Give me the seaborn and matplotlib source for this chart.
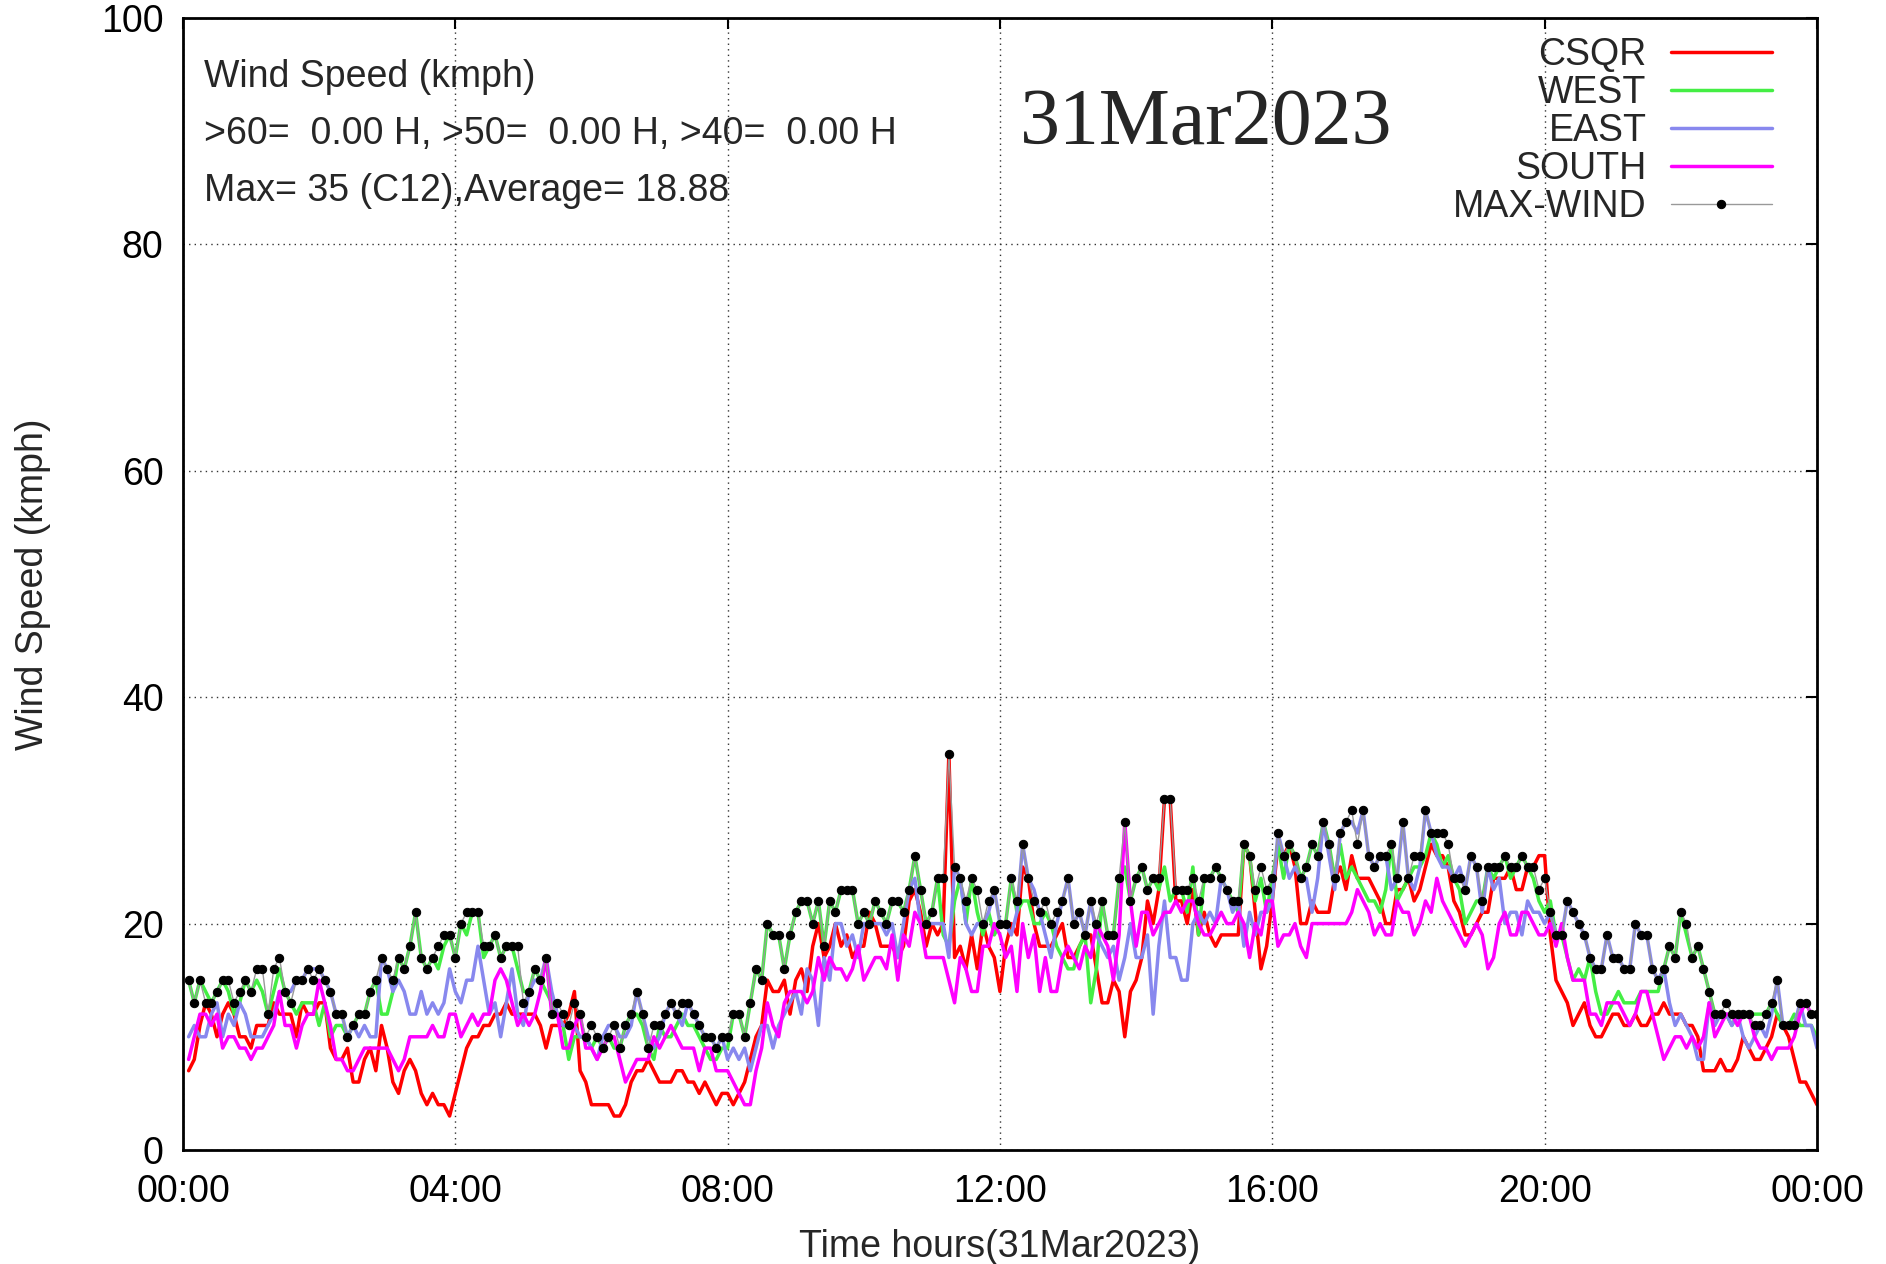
import numpy as np
import seaborn as sns
import matplotlib
matplotlib.use('Agg')
import matplotlib.pyplot as plt

# 5-minute samples, 00:05 .. 24:00 (kmph)
minutes = list(range(5, 1441, 5))

csqr = [
    7, 8, 11, 13, 12, 10, 12, 13, 12, 10, 10, 9,
    11, 11, 11, 13, 12, 12, 12, 10, 13, 12, 12, 13,
    13, 9, 8, 8, 9, 6, 6, 8, 9, 7, 11, 9,
    6, 5, 7, 8, 7, 5, 4, 5, 4, 4, 3, 5,
    7, 9, 10, 10, 11, 11, 12, 12, 13, 12, 12, 12,
    12, 12, 11, 9, 11, 11, 11, 12, 14, 7, 6, 4,
    4, 4, 4, 3, 3, 4, 6, 7, 7, 8, 7, 6,
    6, 6, 7, 7, 6, 6, 5, 6, 5, 4, 5, 5,
    4, 5, 6, 8, 10, 11, 15, 14, 14, 15, 12, 15,
    16, 14, 18, 20, 17, 18, 20, 18, 19, 17, 18, 18,
    21, 20, 18, 18, 18, 17, 18, 22, 23, 21, 18, 20,
    19, 20, 35, 17, 18, 16, 19, 16, 20, 18, 17, 14,
    18, 20, 19, 25, 24, 20, 18, 18, 18, 19, 20, 17,
    17, 18, 19, 19, 16, 13, 13, 15, 14, 10, 14, 15,
    17, 22, 20, 23, 31, 31, 22, 22, 20, 23, 19, 21,
    19, 18, 19, 19, 19, 19, 27, 26, 21, 16, 18, 22,
    27, 26, 27, 25, 20, 20, 22, 21, 21, 21, 24, 25,
    23, 26, 24, 24, 24, 23, 22, 20, 20, 23, 23, 24,
    22, 23, 25, 27, 26, 26, 25, 22, 21, 19, 19, 20,
    21, 21, 24, 24, 24, 25, 23, 23, 25, 25, 26, 26,
    19, 15, 14, 13, 11, 12, 13, 11, 10, 10, 11, 12,
    12, 11, 11, 12, 11, 11, 12, 12, 13, 12, 12, 12,
    11, 11, 10, 7, 7, 7, 8, 7, 7, 8, 10, 9,
    8, 8, 9, 10, 12, 11, 10, 8, 6, 6, 5, 4,
]

west = [
    15, 13, 15, 14, 13, 14, 15, 14, 12, 13, 15, 14,
    15, 14, 12, 14, 16, 14, 13, 12, 13, 13, 13, 11,
    13, 10, 11, 11, 10, 11, 12, 12, 14, 15, 12, 12,
    14, 17, 16, 18, 21, 17, 16, 17, 16, 18, 19, 17,
    20, 19, 21, 21, 17, 18, 19, 17, 18, 18, 16, 14,
    14, 16, 15, 14, 13, 12, 11, 8, 10, 10, 10, 9,
    10, 9, 10, 9, 9, 11, 12, 12, 11, 9, 8, 11,
    10, 10, 11, 12, 11, 11, 10, 9, 8, 8, 9, 9,
    12, 12, 10, 13, 16, 15, 20, 19, 19, 16, 19, 21,
    22, 22, 20, 22, 18, 22, 21, 23, 23, 23, 20, 21,
    20, 22, 21, 20, 22, 22, 21, 23, 26, 23, 20, 21,
    24, 19, 18, 22, 24, 20, 24, 21, 19, 21, 19, 20,
    20, 24, 21, 22, 22, 20, 20, 21, 20, 18, 17, 16,
    16, 18, 19, 13, 16, 22, 19, 19, 24, 25, 22, 24,
    25, 23, 24, 23, 25, 22, 23, 23, 21, 25, 19, 24,
    24, 25, 24, 23, 22, 21, 27, 26, 22, 24, 21, 24,
    27, 24, 27, 26, 24, 25, 27, 26, 29, 27, 24, 27,
    24, 25, 24, 23, 22, 22, 21, 23, 27, 22, 23, 24,
    25, 25, 26, 28, 27, 25, 26, 24, 23, 20, 21, 22,
    22, 25, 24, 25, 26, 24, 25, 26, 25, 24, 22, 21,
    22, 19, 19, 17, 15, 16, 15, 17, 14, 12, 12, 13,
    14, 13, 13, 13, 14, 14, 14, 14, 16, 18, 17, 21,
    19, 17, 18, 16, 14, 12, 12, 12, 11, 12, 12, 12,
    12, 12, 12, 13, 12, 11, 11, 12, 11, 11, 11, 10,
]

east = [
    10, 11, 10, 10, 12, 13, 10, 12, 11, 13, 12, 10,
    10, 10, 11, 12, 14, 14, 14, 15, 15, 16, 16, 16,
    15, 14, 12, 12, 10, 11, 10, 11, 10, 10, 17, 16,
    14, 15, 14, 12, 12, 14, 12, 13, 12, 13, 16, 14,
    13, 15, 15, 18, 15, 12, 13, 10, 13, 16, 12, 11,
    14, 15, 15, 17, 14, 12, 11, 11, 11, 10, 10, 9,
    8, 10, 11, 11, 10, 10, 11, 14, 12, 10, 9, 10,
    12, 13, 12, 11, 13, 12, 11, 10, 10, 9, 10, 8,
    9, 8, 9, 7, 9, 11, 11, 9, 11, 12, 13, 14,
    12, 16, 15, 11, 17, 15, 20, 20, 18, 19, 17, 20,
    20, 20, 20, 19, 20, 17, 20, 23, 24, 20, 20, 20,
    20, 20, 17, 25, 24, 20, 19, 20, 20, 21, 23, 20,
    20, 19, 21, 27, 24, 23, 21, 19, 17, 20, 22, 24,
    20, 21, 19, 22, 19, 18, 17, 18, 15, 17, 20, 17,
    17, 19, 12, 18, 22, 17, 17, 15, 15, 20, 21, 20,
    21, 20, 24, 23, 21, 22, 18, 21, 19, 21, 21, 22,
    28, 26, 24, 25, 24, 24, 21, 24, 29, 26, 23, 28,
    29, 29, 28, 30, 26, 25, 26, 26, 23, 24, 29, 24,
    23, 25, 30, 28, 26, 25, 25, 24, 25, 23, 26, 25,
    21, 25, 23, 24, 20, 21, 21, 19, 22, 21, 21, 20,
    21, 19, 19, 22, 21, 20, 19, 17, 16, 16, 19, 17,
    17, 16, 16, 20, 19, 19, 16, 15, 16, 13, 11, 12,
    11, 10, 8, 8, 13, 11, 12, 12, 11, 12, 10, 9,
    10, 11, 10, 12, 15, 11, 11, 11, 13, 11, 11, 9,
]

south = [
    8, 10, 12, 12, 11, 12, 9, 10, 10, 9, 9, 8,
    9, 9, 10, 11, 14, 11, 11, 9, 11, 12, 12, 15,
    13, 11, 8, 8, 7, 7, 8, 9, 9, 9, 9, 9,
    8, 7, 8, 10, 10, 10, 10, 11, 10, 10, 12, 12,
    10, 11, 12, 11, 12, 12, 15, 16, 15, 13, 11, 12,
    11, 12, 14, 17, 12, 12, 9, 9, 11, 12, 9, 9,
    8, 9, 10, 10, 8, 6, 7, 8, 8, 8, 10, 9,
    10, 11, 10, 9, 9, 9, 7, 9, 9, 7, 7, 7,
    6, 5, 4, 4, 7, 9, 13, 11, 10, 13, 14, 14,
    14, 13, 14, 17, 15, 17, 16, 16, 15, 16, 18, 15,
    16, 17, 17, 16, 19, 15, 19, 18, 21, 20, 17, 17,
    17, 17, 15, 13, 17, 16, 14, 14, 18, 18, 20, 19,
    17, 18, 14, 20, 17, 19, 14, 17, 14, 14, 17, 18,
    17, 16, 18, 17, 20, 19, 18, 15, 19, 29, 22, 18,
    21, 21, 19, 20, 21, 21, 22, 21, 22, 22, 20, 19,
    19, 20, 21, 20, 20, 21, 20, 17, 20, 19, 22, 22,
    18, 19, 19, 20, 18, 17, 20, 20, 20, 20, 20, 20,
    20, 21, 23, 22, 21, 19, 20, 19, 19, 22, 21, 21,
    19, 20, 22, 21, 24, 22, 21, 20, 19, 18, 19, 20,
    19, 16, 17, 20, 21, 19, 19, 21, 21, 20, 19, 19,
    20, 18, 20, 17, 15, 15, 15, 12, 12, 11, 13, 13,
    13, 12, 11, 12, 14, 14, 12, 10, 8, 9, 10, 10,
    9, 10, 9, 10, 13, 10, 11, 12, 12, 11, 12, 12,
    10, 9, 9, 8, 9, 9, 9, 10, 12, 13, 12, 12,
]

max_wind = [
    15, 13, 15, 13, 13, 14, 15, 15, 13, 14, 15, 14,
    16, 16, 12, 16, 17, 14, 13, 15, 15, 16, 15, 16,
    15, 14, 12, 12, 10, 11, 12, 12, 14, 15, 17, 16,
    15, 17, 16, 18, 21, 17, 16, 17, 18, 19, 19, 17,
    20, 21, 21, 21, 18, 18, 19, 17, 18, 18, 18, 13,
    14, 16, 15, 17, 12, 13, 12, 11, 13, 12, 10, 11,
    10, 9, 10, 11, 9, 11, 12, 14, 12, 9, 11, 11,
    12, 13, 12, 13, 13, 12, 11, 10, 10, 9, 10, 10,
    12, 12, 10, 13, 16, 15, 20, 19, 19, 16, 19, 21,
    22, 22, 20, 22, 18, 22, 21, 23, 23, 23, 20, 21,
    20, 22, 21, 20, 22, 22, 21, 23, 26, 23, 20, 21,
    24, 24, 35, 25, 24, 22, 24, 23, 20, 22, 23, 20,
    20, 24, 22, 27, 24, 22, 21, 22, 20, 21, 22, 24,
    20, 21, 19, 22, 20, 22, 19, 19, 24, 29, 22, 24,
    25, 23, 24, 24, 31, 31, 23, 23, 23, 24, 22, 24,
    24, 25, 24, 23, 22, 22, 27, 26, 23, 25, 23, 24,
    28, 26, 27, 26, 24, 25, 27, 26, 29, 27, 24, 28,
    29, 30, 27, 30, 26, 25, 26, 26, 27, 24, 29, 24,
    26, 26, 30, 28, 28, 28, 27, 24, 24, 23, 26, 25,
    22, 25, 25, 25, 26, 25, 25, 26, 25, 25, 23, 24,
    21, 19, 19, 22, 21, 20, 19, 17, 16, 16, 19, 17,
    17, 16, 16, 20, 19, 19, 16, 15, 16, 18, 17, 21,
    20, 17, 18, 16, 14, 12, 12, 13, 12, 12, 12, 12,
    11, 11, 12, 13, 15, 11, 11, 11, 13, 13, 12, 12,
]

x_ticks = [0, 4, 8, 12, 16, 20, 24]
x_ticklabels = ['00:00', '04:00', '08:00', '12:00', '16:00', '20:00', '00:00']
y_ticks = [0, 20, 40, 60, 80, 100]

sns.set_theme(style='white')
plt.rcParams['font.family'] = ['Liberation Sans', 'DejaVu Sans']

hours = np.array(minutes) / 60.0

fig = plt.figure(figsize=(18.86, 12.64), dpi=100)
ax = fig.add_axes([0.097, 0.0902, 0.8664, 0.8956])

sns.lineplot(x=hours, y=csqr, ax=ax, color='#ff0000', lw=2.5, label='CSQR')
sns.lineplot(x=hours, y=west, ax=ax, color='#44ee44', lw=2.5, label='WEST')
sns.lineplot(x=hours, y=east, ax=ax, color='#8888ee', lw=2.5, label='EAST')
sns.lineplot(x=hours, y=south, ax=ax, color='#ff00ff', lw=2.5, label='SOUTH')
sns.lineplot(x=hours, y=max_wind, ax=ax, color='#999999', lw=1.0,
             marker='o', markersize=6, markerfacecolor='black',
             markeredgecolor='black', label='MAX-WIND')

ax.set_xlim(0, 24)
ax.set_ylim(0, 100)
ax.set_xticks(x_ticks)
ax.set_xticklabels(x_ticklabels)
ax.set_yticks(y_ticks)
ax.tick_params(direction='in', length=8, width=1.5, top=True, right=True,
               labelsize=27, colors='black')
ax.tick_params(axis='x', pad=17)
ax.tick_params(axis='y', pad=14)
ax.grid(True, color='#333333', linestyle=(0, (1, 3)), linewidth=1.0)
for s in ax.spines.values():
    s.set_color('black')
    s.set_linewidth(2)

ax.set_xlabel('Time hours(31Mar2023)', fontsize=27, labelpad=14)
ax.set_ylabel('Wind Speed (kmph)', fontsize=27, labelpad=36)

ax.text(0.0129, 0.9475, 'Wind Speed (kmph)', transform=ax.transAxes,
        fontsize=27, va='center', ha='left')
ax.text(0.0129, 0.8979, '>60=  0.00 H, >50=  0.00 H, >40=  0.00 H',
        transform=ax.transAxes, fontsize=27, va='center', ha='left')
ax.text(0.0129, 0.8470, 'Max= 35 (C12),Average= 18.88', transform=ax.transAxes,
        fontsize=27, va='center', ha='left')
ax.text(0.5125, 0.906, '31Mar2023', transform=ax.transAxes,
        fontsize=57.5, va='center', ha='left', family='Liberation Serif')

leg = ax.legend(loc='upper right', bbox_to_anchor=(0.9725, 0.983),
                frameon=False, markerfirst=False, fontsize=27,
                handlelength=2.7, handletextpad=0.65, labelspacing=0.05,
                borderpad=0, borderaxespad=0, numpoints=1)

fig.savefig('out.png', dpi=100)
